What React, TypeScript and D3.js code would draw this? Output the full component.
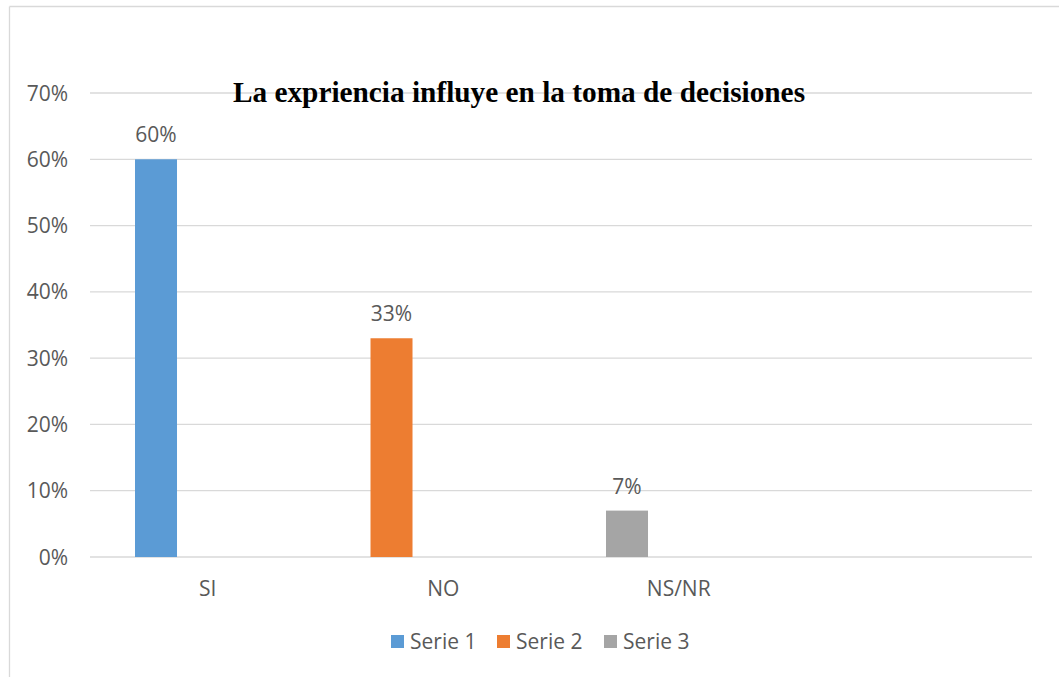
import React from "react";
import * as d3 from "d3";

const categories = ["SI", "NO", "NS/NR", ""];
const seriesNames = ["Serie 1", "Serie 2", "Serie 3"];
const seriesValues = [
  [0.6, 0, 0, 0],
  [0, 0.33, 0, 0],
  [0, 0, 0.07, 0],
];
const seriesColors = ["#5b9bd5", "#ed7d31", "#a5a5a5"];
const yTicks = [0, 0.1, 0.2, 0.3, 0.4, 0.5, 0.6, 0.7];
const title = "La expriencia influye en la toma de decisiones";

const W = 1059;
const H = 677;
const left = 90;
const right = 1032;
const top = 93;
const bottom = 557;
const textColor = "#595959";
const font = "'Open Sans', sans-serif";
const fs = 21;

export default function App() {
  const y = d3.scaleLinear().domain([0, 0.7]).range([bottom, top]);
  const xCat = d3.scaleBand<string>().domain(categories).range([left, right]).padding(0);
  const pi = 1 - 42 / xCat.step();
  const xBar = d3
    .scaleBand<string>()
    .domain(categories)
    .range([left, right])
    .paddingInner(pi)
    .paddingOuter(pi / 2)
    .align(0.2326);
  const fmt = d3.format(".0%");

  const legendX = [391, 497, 604];

  return (
    <svg
      width={W}
      height={H}
      style={{ position: "absolute", left: 0, top: 0, background: "#fff" }}
    >
      <rect x={0} y={0} width={W} height={H} fill="#fff" />
      <line x1={9.5} x2={W} y1={6.5} y2={6.5} stroke="#d9d9d9" strokeWidth={1.3} />
      <line x1={9.5} x2={9.5} y1={6.5} y2={H} stroke="#d9d9d9" strokeWidth={1.3} />
      {yTicks.map((t) => (
        <g key={t}>
          <line x1={left} x2={right} y1={y(t)} y2={y(t)} stroke="#d9d9d9" strokeWidth={1.3} />
          <text
            x={68}
            y={y(t) + 7.5}
            textAnchor="end"
            fontFamily={font}
            fontSize={fs}
            fill={textColor}
          >
            {fmt(t)}
          </text>
        </g>
      ))}
      {seriesValues.map((vals, si) =>
        vals.map((v, ci) =>
          v > 0 ? (
            <g key={`${si}-${ci}`}>
              <rect
                x={xBar(categories[ci])!}
                y={y(v)}
                width={xBar.bandwidth()}
                height={y(0) - y(v)}
                fill={seriesColors[si]}
              />
              <text
                x={xBar(categories[ci])! + xBar.bandwidth() / 2}
                y={y(v) - 17}
                textAnchor="middle"
                fontFamily={font}
                fontSize={fs}
                fill={textColor}
              >
                {fmt(v)}
              </text>
            </g>
          ) : null
        )
      )}
      {categories.map((c) => (
        <text
          key={c}
          x={xCat(c)! + xCat.bandwidth() / 2}
          y={596}
          textAnchor="middle"
          fontFamily={font}
          fontSize={fs}
          fill={textColor}
        >
          {c}
        </text>
      ))}
      <text
        x={519}
        y={102}
        textAnchor="middle"
        fontFamily="'Liberation Serif', 'Times New Roman', serif"
        fontWeight="bold"
        fontSize={29.3}
        fill="#000"
      >
        {title}
      </text>
      {seriesNames.map((n, i) => (
        <g key={n}>
          <rect x={legendX[i]} y={635} width={13} height={13} fill={seriesColors[i]} />
          <text
            x={legendX[i] + 19}
            y={649}
            fontFamily={font}
            fontSize={fs}
            fill={textColor}
          >
            {n}
          </text>
        </g>
      ))}
    </svg>
  );
}
